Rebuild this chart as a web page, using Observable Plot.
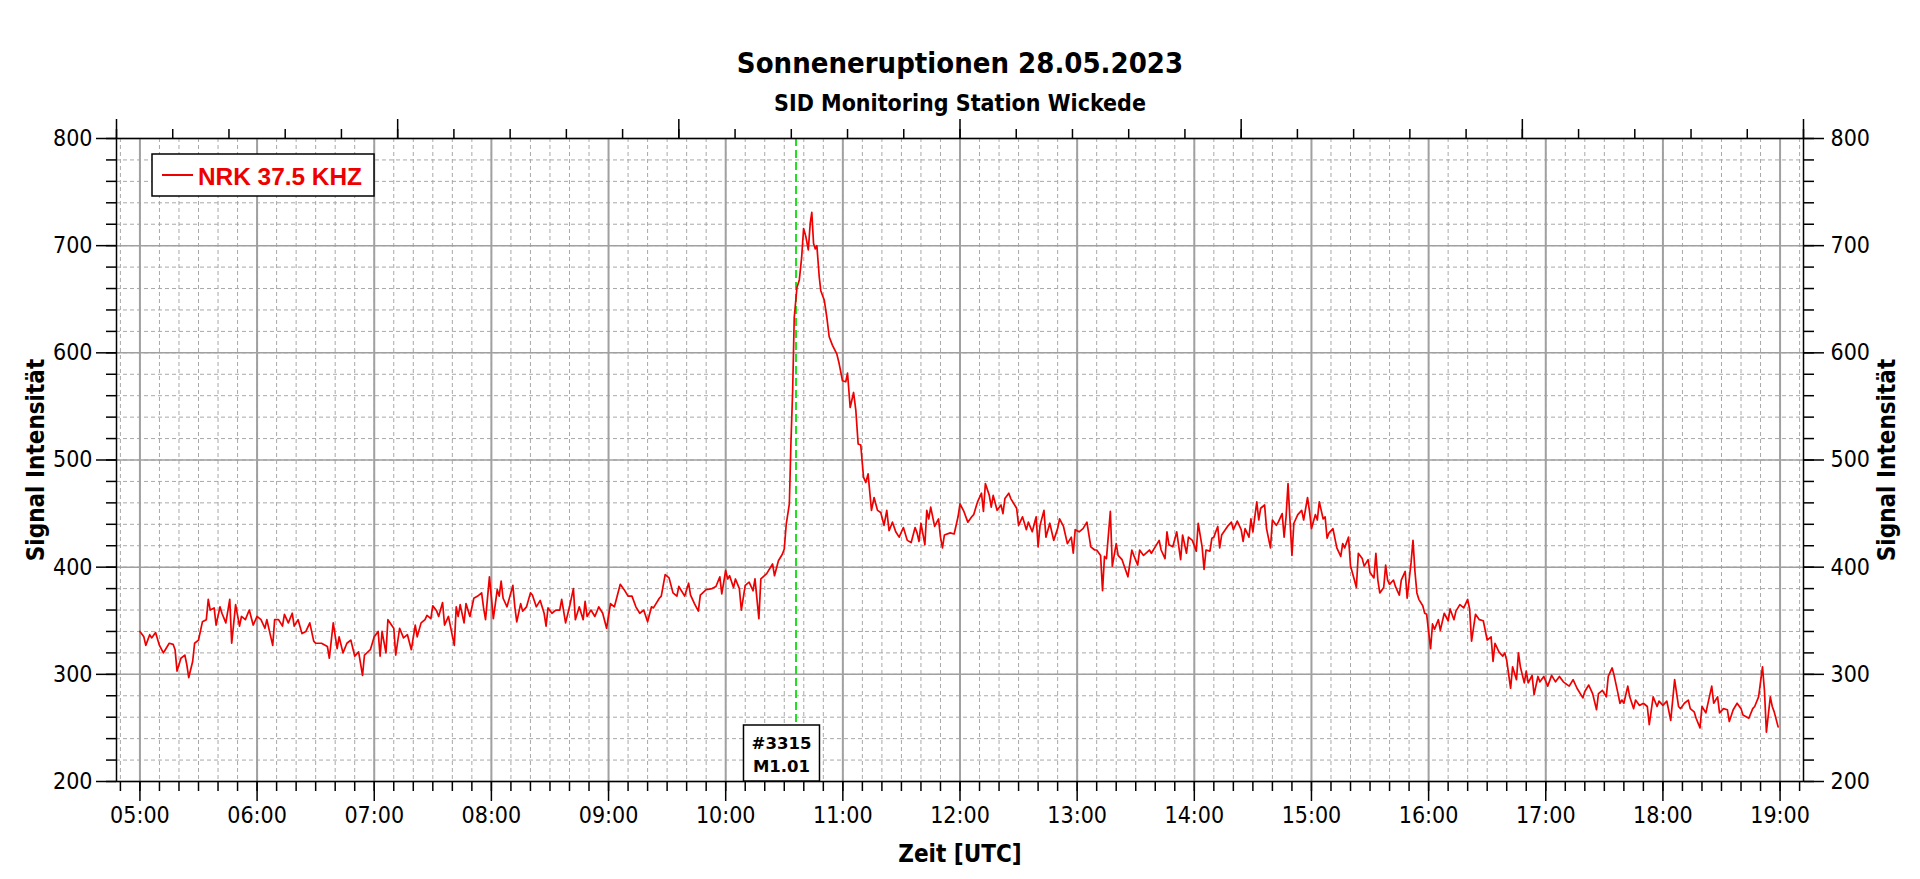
<!DOCTYPE html>
<html><head><meta charset="utf-8">
<script src="https://cdn.jsdelivr.net/npm/d3@7"></script>
<script src="https://cdn.jsdelivr.net/npm/@observablehq/plot@0.6"></script>
<style>
html,body{margin:0;padding:0;background:#fff;overflow:hidden;}
#wrap{position:relative;width:1920px;height:879px;}
.title{position:absolute;left:0;width:1920px;text-align:center;font-family:"DejaVu Sans Condensed","DejaVu Sans",sans-serif;font-weight:bold;color:#000;white-space:nowrap;}
#chart{position:absolute;left:0;top:0;}
</style></head><body>
<div id="wrap">
<div id="chart"></div>
<div class="title" style="top:45px;font-size:29px;line-height:36px">Sonneneruptionen 28.05.2023</div>
<div class="title" style="top:88px;font-size:23px;line-height:30px">SID Monitoring Station Wickede</div>
</div>
<script>
// ---- data ----
const serienName = "NRK 37.5 KHZ";
const zeitBereich = ["04:48", "19:12"];
const stundenLabels = ["05:00","06:00","07:00","08:00","09:00","10:00","11:00","12:00","13:00","14:00","15:00","16:00","17:00","18:00","19:00"];
const yLabels = [200, 300, 400, 500, 600, 700, 800];
const flareZeit = "10:36";
const flareText = ["#3315", "M1.01"];

const vormittag = [
["05:00",340],["05:02",335],["05:03",327],["05:05",337],["05:06",334],["05:08",339],["05:10",327],["05:12",320],
["05:13",323],["05:15",329],["05:17",328],["05:18",323],["05:19",303],["05:21",315],["05:23",318],["05:24",309],
["05:25",297],["05:27",312],["05:28",329],["05:30",332],["05:32",349],["05:34",351],["05:35",370],["05:36",360],
["05:38",362],["05:39",346],["05:41",363],["05:42",357],["05:44",348],["05:46",370],["05:47",329],["05:49",365],
["05:51",345],["05:52",354],["05:54",351],["05:56",360],["05:58",346],["06:00",354],["06:02",351],["06:04",343],
["06:05",351],["06:08",327],["06:09",351],["06:11",351],["06:13",345],["06:14",356],["06:16",348],["06:18",357],
["06:19",345],["06:21",351],["06:23",338],["06:25",340],["06:27",348],["06:29",331],["06:30",329],["06:33",329],
["06:36",326],["06:37",315],["06:39",348],["06:41",324],["06:42",335],["06:44",320],["06:46",329],["06:48",332],
["06:50",317],["06:52",321],["06:54",299],["06:55",318],["06:58",323],["07:00",335],["07:02",340],["07:03",317],
["07:04",340],["07:06",320],["07:07",351],["07:10",343],["07:11",318],["07:13",343],["07:15",334],["07:17",337],
["07:19",323],["07:21",346],["07:22",335],["07:24",348],["07:26",351],["07:27",355],["07:29",352],["07:30",364],
["07:32",359],["07:33",354],["07:35",367],["07:36",346],["07:38",354],["07:39",345],["07:41",327],["07:42",363],
["07:43",354],["07:44",365],["07:46",348],["07:47",366],["07:49",354],["07:51",371],["07:53",373],["07:55",376],
["07:56",362],["07:57",351],["07:59",391],["08:01",352],["08:03",379],["08:04",373],["08:05",387],["08:06",371],
["08:08",363],["08:11",383],["08:12",363],["08:13",349],["08:15",366],["08:16",359],["08:18",363],["08:20",376],
["08:21",374],["08:23",363],["08:25",369],["08:27",357],["08:28",345],["08:29",362],["08:31",357],["08:33",360],
["08:35",360],["08:36",370],["08:38",348],["08:40",363],["08:42",380],["08:43",351],["08:45",363],["08:47",351],
["08:48",368],["08:49",354],["08:51",360],["08:53",354],["08:55",363],["08:57",357],["08:59",343],["09:01",366],
["09:03",363],["09:06",384],["09:08",379],["09:10",373],["09:12",373],["09:14",363],["09:16",357],["09:18",360],
["09:20",349],["09:22",363],["09:23",362],["09:26",371],["09:27",373],["09:29",393],["09:31",390],["09:33",376],
["09:35",373],["09:36",382],["09:39",373],["09:41",385],["09:42",374],["09:44",366],["09:46",359],["09:47",374],
["09:50",379],["09:53",380],["09:55",382],["09:57",391],["09:58",375],["10:00",397],["10:01",389],["10:02",392],
["10:04",381],["10:05",389],["10:07",380],["10:08",360],["10:10",383],["10:12",386],["10:14",378],["10:15",389],
["10:17",352],["10:18",389],["10:21",394],["10:22",397],["10:24",403],["10:25",392],["10:27",406],["10:29",412],
["10:30",417],["10:31",440]
];
const anstieg = [
["10:32:36",459],["10:33:24",515],["10:34:18",565],["10:35:06",633],["10:36:30",661],["10:37:42",668],
["10:38:54",689],["10:39:54",716],["10:41:06",708],["10:42:18",696],["10:43:18",721],["10:44:06",731],
["10:45:00",702],["10:45:54",697],["10:46:42",700],["10:47:54",671],["10:48:42",658],["10:50:30",649],
["10:51:48",633],["10:53:00",615],["10:54:42",607],["10:56:54",599],["10:58:06",590],["10:59:48",574],
["11:01:30",573],["11:02:24",581],["11:03:45",549],["11:05:30",563],["11:06:40",546],["11:07:50",515],
["11:09:10",514],["11:10:35",484],["11:11:45",479],["11:12:55",487],["11:14:40",453],["11:16:00",465],
["11:17:45",453],["11:19:25",451],["11:21:05",439],["11:22:30",453],["11:23:40",434],["11:25:25",442],
["11:27:05",433],["11:28:50",428],["11:31:00",437],["11:33:00",425],["11:35:00",423]
];
const mittag = [
["11:37",437],["11:38",432],["11:39",424],["11:40",441],["11:42",421],["11:43",453],["11:44",445],["11:45",456],
["11:47",438],["11:49",445],["11:50",428],["11:51",418],["11:52",430],["11:55",432],["11:57",431],["11:59",447],
["12:00",459],["12:02",452],["12:04",442],["12:06",447],["12:07",449],["12:09",461],["12:11",469],["12:12",452],
["12:13",478],["12:15",467],["12:16",456],["12:17",467],["12:19",453],["12:21",458],["12:22",450],["12:23",464],
["12:25",469],["12:26",464],["12:29",455],["12:30",439],["12:32",447],["12:34",435],["12:35",442],["12:37",433],
["12:39",447],["12:40",419],["12:41",439],["12:43",453],["12:44",428],["12:46",441],["12:48",425],["12:50",436],
["12:51",445],["12:53",438],["12:55",422],["12:57",428],["12:58",413],["12:59",435],["13:01",433],["13:03",436],
["13:05",442],["13:07",419],["13:09",416],["13:10",416],["13:12",411],["13:13",378],["13:14",410],["13:15",408],
["13:17",452],["13:18",401],["13:20",422],["13:21",411],["13:23",407],["13:26",391],["13:28",416],["13:29",411],
["13:31",402],["13:32",416],["13:34",411],["13:37",416],["13:38",413],["13:41",422],["13:42",425],["13:43",416],
["13:45",408],["13:46",433],["13:47",421],["13:49",419],["13:51",433],["13:53",407],["13:54",430],["13:56",413],
["13:57",428],["13:59",425],["14:01",415],["14:02",441],["14:03",430],["14:04",419],["14:05",398],["14:06",416],
["14:08",415],["14:09",427],["14:10",428],["14:12",438],["14:13",418],["14:14",430],["14:17",438],["14:19",442],
["14:20",435],["14:22",443],["14:24",435],["14:25",424],["14:26",436],["14:28",428],["14:29",445],["14:30",433],
["14:32",461],["14:33",444],["14:34",455],["14:36",458],["14:37",436],["14:39",418],["14:40",444],["14:42",439],
["14:43",442],["14:45",450],["14:46",428],["14:47",447],["14:48",478],["14:49",444],["14:50",411],["14:51",441],
["14:53",449],["14:55",453],["14:56",444],["14:58",465],["14:59",452],["15:00",436],["15:02",449],["15:03",444],
["15:04",461],["15:06",445],["15:07",447],["15:08",427],["15:09",432],["15:11",436]
];
const nachmittag = [
["15:13",418],["15:15",410],["15:16",422],["15:17",418],["15:19",428],["15:20",401],["15:22",388],["15:23",381],
["15:24",413],["15:26",408],["15:27",401],["15:29",407],["15:30",395],["15:32",390],["15:33",413],["15:34",388],
["15:35",376],["15:37",381],["15:38",402],["15:39",388],["15:40",384],["15:42",388],["15:43",382],["15:45",374],
["15:46",388],["15:48",396],["15:49",371],["15:51",404],["15:52",425],["15:53",396],["15:54",376],["15:55",370],
["15:57",364],["15:58",357],["15:59",356],["16:01",324],["16:02",347],["16:03",342],["16:05",351],["16:06",341],
["16:08",357],["16:10",350],["16:11",361],["16:13",351],["16:14",359],["16:16",365],["16:18",362],["16:20",370],
["16:21",361],["16:22",331],["16:24",356],["16:26",351],["16:28",350],["16:30",332],["16:32",335],["16:33",312],
["16:34",329],["16:36",321],["16:38",317],["16:39",320],["16:40",313],["16:42",287],["16:43",307],["16:45",295],
["16:46",320],["16:47",307],["16:49",292],["16:50",303],["16:51",292],["16:53",299],["16:54",281],["16:56",298],
["16:57",293],["16:59",298]
];
const abend = [
["17:01",289],["17:03",299],["17:05",293],["17:07",298],["17:09",293],["17:12",289],["17:14",295],["17:16",287],
["17:19",278],["17:20",284],["17:22",290],["17:24",282],["17:26",267],["17:27",282],["17:29",285],["17:31",279],
["17:32",298],["17:34",306],["17:35",299],["17:37",282],["17:38",273],["17:39",276],["17:40",273],["17:42",289],
["17:43",279],["17:45",268],["17:46",276],["17:48",271],["17:50",273],["17:52",270],["17:53",253],["17:55",279],
["17:57",270],["17:58",275],["18:00",271],["18:02",275],["18:04",257],["18:06",295],["18:08",270],["18:09",268],
["18:11",273],["18:13",276],["18:14",268],["18:16",265],["18:17",259],["18:19",250],["18:20",270],["18:22",264],
["18:25",289],["18:26",273],["18:28",279],["18:29",264],["18:31",268],["18:33",267],["18:34",256],["18:36",267],
["18:38",273],["18:40",268],["18:41",262],["18:44",259],["18:46",268],["18:47",270],["18:49",279],["18:51",307],
["18:52",285],["18:53",246],["18:55",279],["18:56",270],["18:57",265],["18:59",251]
];

// ---- build ----
function t(s){const p=s.split(":").map(Number);return new Date(Date.UTC(2023,4,28,p[0],p[1],p[2]||0));}
const serie = [...vormittag, ...anstieg, ...mittag, ...nachmittag, ...abend].map(([z,v])=>({zeit:t(z), signal:v}));
const xDomain = zeitBereich.map(t);
const hours = stundenLabels.map(t);
const minor10 = d3.utcMinute.every(10).range(xDomain[0], new Date(+xDomain[1]+1));
const topTicks = d3.range(31).map(k => new Date(+xDomain[0] + k*(xDomain[1]-xDomain[0])/30));
const topMajor = topTicks.filter((d,k)=>k%5===0);
const yMinor = d3.range(yLabels[0], yLabels[yLabels.length-1]+1, 20);
const fontFam = '"DejaVu Sans Condensed","DejaVu Sans",sans-serif';
const blank = () => "";

const plot = Plot.plot({
  width:1920, height:879, marginTop:138, marginBottom:98, marginLeft:116, marginRight:117,
  style:{fontFamily:fontFam, fontSize:"23px", color:"#000", background:"transparent"},
  x:{type:"utc", domain:xDomain},
  y:{domain:[yLabels[0], yLabels[yLabels.length-1]]},
  marks:[
    Plot.gridX({ticks:minor10, stroke:"#a8a8a8", strokeOpacity:1, strokeWidth:1, strokeDasharray:"4,3"}),
    Plot.gridY({ticks:yMinor, stroke:"#a8a8a8", strokeOpacity:1, strokeWidth:1, strokeDasharray:"4,3"}),
    Plot.gridX({ticks:hours, stroke:"#a0a0a0", strokeOpacity:1, strokeWidth:2}),
    Plot.gridY({ticks:yLabels, stroke:"#a0a0a0", strokeOpacity:1, strokeWidth:1.5}),
    Plot.ruleX([t(flareZeit)], {stroke:"#1fe01f", strokeWidth:2, strokeDasharray:"8,4"}),
    Plot.line(serie, {x:"zeit", y:"signal", stroke:"#ee0000", strokeWidth:1.7}),
    Plot.frame({stroke:"#000", strokeWidth:1.5}),
    Plot.axisX({ticks:hours, anchor:"bottom", tickSize:20, tickPadding:5, strokeWidth:1.5, tickFormat:d3.utcFormat("%H:%M"), label:null}),
    Plot.axisX({ticks:minor10, anchor:"bottom", tickSize:10, strokeWidth:1.5, tickFormat:blank, label:null}),
    Plot.axisX({ticks:topMajor, anchor:"top", tickSize:20, strokeWidth:1.5, tickFormat:blank, label:null}),
    Plot.axisX({ticks:topTicks, anchor:"top", tickSize:10, strokeWidth:1.5, tickFormat:blank, label:null}),
    Plot.axisY({ticks:yLabels, anchor:"left", tickSize:20, tickPadding:4, strokeWidth:1.5, label:null}),
    Plot.axisY({ticks:yMinor, anchor:"left", tickSize:10, strokeWidth:1.5, tickFormat:blank, label:null}),
    Plot.axisY({ticks:yLabels, anchor:"right", tickSize:20, tickPadding:7, strokeWidth:1.5, label:null}),
    Plot.axisY({ticks:yMinor, anchor:"right", tickSize:10, strokeWidth:1.5, tickFormat:blank, label:null}),
    Plot.text(["Zeit [UTC]"], {text:d=>d, frameAnchor:"bottom", dy:73, textAnchor:"middle", lineAnchor:"middle", fontWeight:"bold", fontSize:24}),
    Plot.text(["Signal Intensität"], {text:d=>d, frameAnchor:"left", dx:-80, rotate:-90, textAnchor:"middle", lineAnchor:"middle", fontWeight:"bold", fontSize:24}),
    Plot.text(["Signal Intensität"], {text:d=>d, frameAnchor:"right", dx:84, rotate:-90, textAnchor:"middle", lineAnchor:"middle", fontWeight:"bold", fontSize:24})
  ]
});
document.getElementById("chart").appendChild(plot);

// legend and flare annotation, placed with the plot's scales
const svgSel = d3.select(plot);
const sx = plot.scale("x"), sy = plot.scale("y");
const leftX = sx.apply(xDomain[0]), topY = sy.apply(yLabels[yLabels.length-1]);
const lg = svgSel.append("g");
lg.append("rect").attr("x",leftX+36).attr("y",topY+16).attr("width",222).attr("height",42)
  .attr("fill","#fff").attr("stroke","#000").attr("stroke-width",1.5);
lg.append("line").attr("x1",leftX+46).attr("x2",leftX+77).attr("y1",topY+37).attr("y2",topY+37)
  .attr("stroke","#ee0000").attr("stroke-width",2);
lg.append("text").attr("x",leftX+82).attr("y",topY+38).attr("text-anchor","start").attr("dominant-baseline","central")
  .attr("font-family",'"Liberation Sans",Arial,sans-serif').attr("font-weight","bold").attr("font-size",24)
  .attr("textLength",164).attr("lengthAdjust","spacingAndGlyphs")
  .attr("fill","#ee0000").text(serienName);

const fx = sx.apply(t(flareZeit)), bottomY = sy.apply(yLabels[0]);
const ag = svgSel.append("g");
ag.append("rect").attr("x",fx-52).attr("y",bottomY-56).attr("width",76).attr("height",56)
  .attr("fill","#fff").attr("stroke","#000").attr("stroke-width",1.5);
flareText.forEach((s,i)=>{
  ag.append("text").attr("x",fx-14).attr("y",bottomY-38+i*23).attr("text-anchor","middle").attr("dominant-baseline","central")
    .attr("font-family",'"DejaVu Sans","Verdana",sans-serif').attr("font-weight","bold").attr("font-size",16.5)
    .attr("fill","#000").text(s);
});
</script>
</body></html>
